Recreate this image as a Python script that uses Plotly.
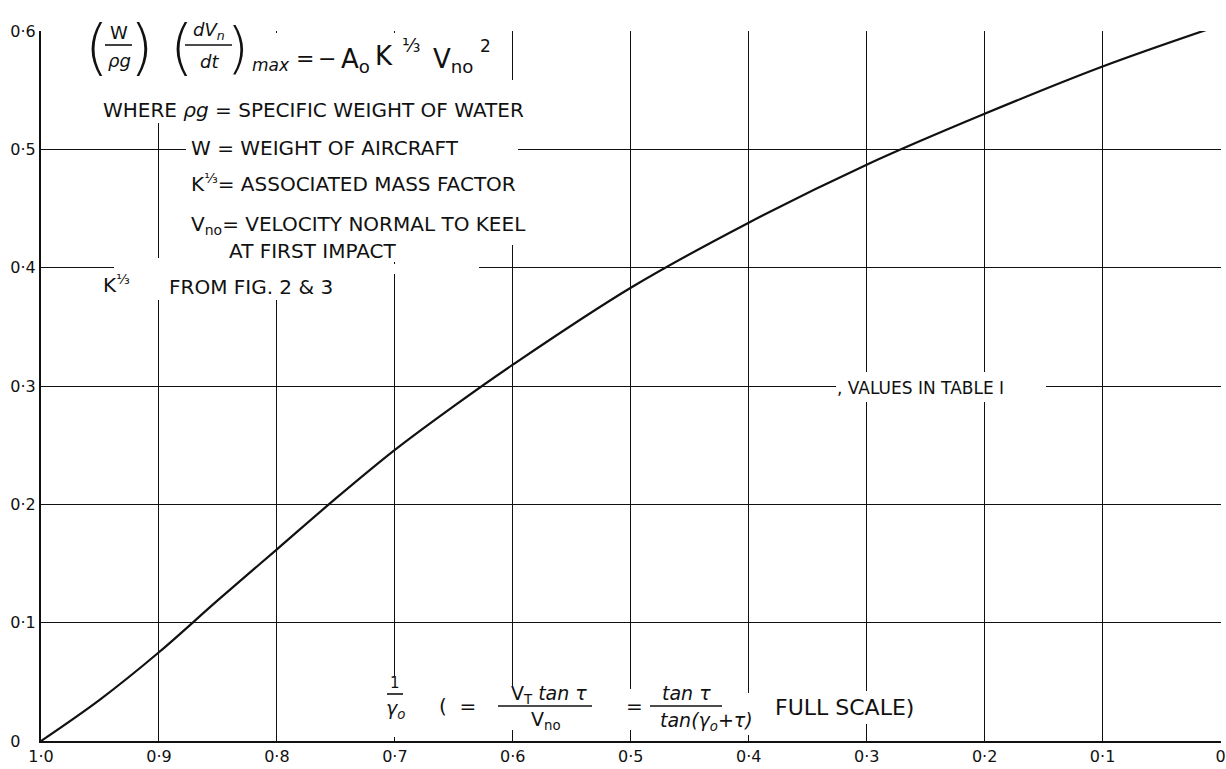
import plotly.graph_objects as go

# ---------------- data ----------------
x_vals = [1.0, 0.95, 0.9, 0.85, 0.8, 0.75, 0.7, 0.65, 0.6, 0.5, 0.4, 0.3, 0.2, 0.1, 0.0]
a0_vals = [0.0, 0.035, 0.075, 0.119, 0.162, 0.205, 0.246, 0.283, 0.318, 0.383, 0.438, 0.487, 0.530, 0.570, 0.605]

x_ticks = [1.0, 0.9, 0.8, 0.7, 0.6, 0.5, 0.4, 0.3, 0.2, 0.1, 0.0]
x_tick_labels = ["1·0", "0·9", "0·8", "0·7", "0·6", "0·5", "0·4", "0·3", "0·2", "0·1", "0"]
y_ticks = [0.0, 0.1, 0.2, 0.3, 0.4, 0.5, 0.6]
# the bare "0" is padded with a figure space + punctuation space so that all
# labels line up on their left edge as in the drawing
y_tick_labels = ["0\u2008\u2007", "0·1", "0·2", "0·3", "0·4", "0·5", "0·6"]

# ---------------- layout geometry ----------------
W, H = 1226, 769
L, R, T, B = 41, 5, 31, 28
XA, XB = 1.0, -0.0004
YA, YB = 0.0, 0.6
FONT = "DejaVu Sans"
INK = "#111111"


def dx(px):
    return XA + (px - L) / (W - L - R) * (XB - XA)


def dy(py):
    return YB - (py - T) / (H - T - B) * (YB - YA)


fig = go.Figure()
fig.add_trace(go.Scatter(
    x=x_vals, y=a0_vals, mode="lines",
    line=dict(color=INK, width=2.2, shape="spline", smoothing=1.0),
    hoverinfo="skip", showlegend=False,
))

shapes = []
# white masks that interrupt the grid where the hand lettering sits
grid_masks = [
    (86, 26, 246, 36),
    (186, 146, 517, 156),
    (114, 264, 479, 274),
    (154, 33, 164, 123),
    (154, 258, 164, 300),
    (272, 33, 282, 300),
    (390, 33, 400, 262),
    (508, 80, 518, 245),
    (836, 383, 1046, 393),
    (864, 372, 874, 402),
    (980, 372, 990, 402),
    (390, 676, 400, 737),
    (508, 686, 518, 730),
    (626, 689, 636, 730),
    (744, 693, 754, 735),
    (862, 691, 872, 724),
]
for (x1, y1, x2, y2) in grid_masks:
    shapes.append(dict(type="rect", xref="x", yref="y", layer="between",
                       x0=dx(x1), x1=dx(x2), y0=dy(y2), y1=dy(y1),
                       fillcolor="white", line=dict(width=0)))

# fraction bars
bars = [
    (105, 132, 45),
    (185, 232, 45),
    (387, 403, 694),
    (498, 592, 706),
    (650, 722, 706),
]
for (x1, x2, y) in bars:
    shapes.append(dict(type="line", xref="x", yref="y", layer="above",
                       x0=dx(x1), x1=dx(x2), y0=dy(y), y1=dy(y),
                       line=dict(color=INK, width=1.6)))

annotations = []


def txt(px, py, s, size=20, xanchor="left", yanchor="middle", weight="normal"):
    annotations.append(dict(x=dx(px), y=dy(py), xref="x", yref="y", text=s,
                            showarrow=False, xanchor=xanchor, yanchor=yanchor,
                            borderpad=0,
                            font=dict(family=FONT, size=size, color=INK, weight=weight)))


# y-axis title
txt(6, 76, "A<sub>o</sub>", 20)

# formula
txt(96, 47, "(", 60, "center", weight=200)
txt(119, 32, "W", 18, "center")
txt(119, 60, "<i>ρg</i>", 18, "center")
txt(141, 47, ")", 60, "center", weight=200)
txt(146, 16, "⅓", 19)
txt(181, 47, "(", 60, "center", weight=200)
txt(209, 31, "<i>dV<sub>n</sub></i>", 18, "center")
txt(209, 61, "<i>dt</i>", 18, "center")
txt(238, 47, ")", 56, "center", weight=200)
txt(251, 65, "<i>max</i>", 17)
txt(305, 58, "=", 22, "center")
txt(327, 58, "−", 22, "center")
txt(340, 60, "A<sub>o</sub>", 26)
txt(374, 56, "K", 26)
txt(401, 45, "⅓", 19)
txt(432, 60, "V<sub>no</sub>", 26)
txt(479, 46, "2", 17)

# explanatory lettering
txt(102, 110, "WHERE <i>ρg</i> = SPECIFIC WEIGHT OF WATER", 20)
txt(190, 148, "W = WEIGHT OF AIRCRAFT", 20)
txt(190, 183, "K<sup>⅓</sup>= ASSOCIATED MASS FACTOR", 20)
txt(190, 225, "V<sub>no</sub>= VELOCITY NORMAL TO KEEL", 20)
txt(228, 251, "AT FIRST IMPACT", 20)
txt(102, 284, "K<sup>⅓</sup>", 20)
txt(168, 287, "FROM FIG. 2 & 3", 20)
txt(836, 388, ", VALUES IN TABLE I", 17)

# x-axis label inside the plot
txt(395, 683, "1", 15, "center")
txt(395, 709, "<i>γ<sub>o</sub></i>", 19, "center")
txt(438, 706, "(  =", 20)
txt(549, 694, "V<sub>T</sub> <i>tan τ</i>", 19, "center")
txt(546, 720, "V<sub>no</sub>", 19, "center")
txt(634, 706, "=", 20, "center")
txt(686, 693, "<i>tan τ</i>", 19, "center")
txt(706, 721, "<i>tan(γ<sub>o</sub>+τ)</i>", 19, "center")
txt(774, 707, "FULL SCALE)", 22)

axis_common = dict(
    showgrid=True, gridcolor=INK, gridwidth=1.2,
    zeroline=False, showline=True, linecolor=INK, linewidth=2.2,
    ticks="", tickfont=dict(family=FONT, size=16, color=INK),
    fixedrange=True, automargin=False,
)
fig.update_xaxes(range=[XA, XB], tickmode="array", tickvals=x_ticks,
                 ticktext=x_tick_labels, **axis_common)
fig.update_yaxes(range=[YA, YB], tickmode="array", tickvals=y_ticks,
                 ticktext=y_tick_labels, **axis_common)

fig.update_layout(
    width=W, height=H,
    margin=dict(l=L, r=R, t=T, b=B),
    paper_bgcolor="white", plot_bgcolor="white",
    shapes=shapes, annotations=annotations,
    showlegend=False,
)

fig.write_html("out.html", config={"displayModeBar": False},
               post_script="document.body.style.margin='0px';document.body.style.overflow='hidden';")
